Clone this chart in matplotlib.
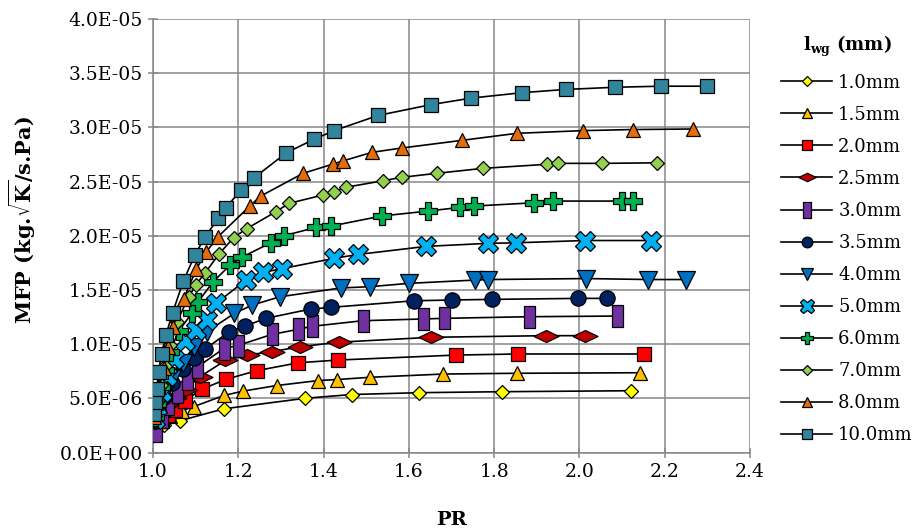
import matplotlib
matplotlib.use("Agg")
import matplotlib.pyplot as plt
from matplotlib.ticker import FixedLocator, FuncFormatter

plt.rcParams['font.family'] = ['DejaVu Serif']
plt.rcParams['mathtext.fontset'] = 'dejavuserif'

SCALE = 1e-5

labels = ["1.0mm", "1.5mm", "2.0mm", "2.5mm", "3.0mm", "3.5mm",
          "4.0mm", "5.0mm", "6.0mm", "7.0mm", "8.0mm", "10.0mm"]

# Pressure ratio (PR) and mass flow parameter (x1e-5) for each waveguide length
pr_10 = [1.005, 1.025, 1.063, 1.166, 1.356, 1.466, 1.624, 1.818, 2.122]
mfp_10 = [0.23, 0.25, 0.293, 0.403, 0.500, 0.535, 0.552, 0.561, 0.570]

pr_15 = [1.005, 1.020, 1.040, 1.068, 1.096, 1.166, 1.212, 1.290, 1.388, 1.431,
         1.509, 1.681, 1.853, 2.142]
mfp_15 = [0.25, 0.29, 0.34, 0.386, 0.424, 0.526, 0.567, 0.618, 0.664, 0.673,
          0.694, 0.724, 0.731, 0.736]

pr_20 = [1.005, 1.020, 1.035, 1.052, 1.075, 1.114, 1.171, 1.243, 1.341, 1.433,
         1.710, 1.856, 2.151]
mfp_20 = [0.26, 0.30, 0.35, 0.392, 0.478, 0.583, 0.675, 0.755, 0.828, 0.853,
          0.899, 0.909, 0.909]

pr_25 = [1.005, 1.015, 1.030, 1.050, 1.075, 1.110, 1.170, 1.220, 1.278, 1.345,
         1.436, 1.653, 1.921, 2.013]
mfp_25 = [0.27, 0.35, 0.44, 0.50, 0.577, 0.699, 0.850, 0.899, 0.930, 0.976,
          1.018, 1.063, 1.078, 1.078]

pr_30 = [1.007, 1.020, 1.035, 1.057, 1.080, 1.104, 1.166, 1.199, 1.278, 1.339,
         1.372, 1.492, 1.632, 1.683, 1.882, 2.087]
mfp_30 = [0.201, 0.33, 0.45, 0.558, 0.68, 0.789, 0.959, 0.987, 1.089, 1.135,
          1.164, 1.216, 1.232, 1.238, 1.253, 1.259]

pr_35 = [1.004, 1.012, 1.025, 1.045, 1.070, 1.095, 1.122, 1.179, 1.216, 1.265,
         1.370, 1.417, 1.612, 1.700, 1.796, 1.997, 2.065]
mfp_35 = [0.29, 0.39, 0.51, 0.64, 0.77, 0.87, 0.955, 1.114, 1.167, 1.238,
          1.324, 1.339, 1.400, 1.407, 1.413, 1.422, 1.422]

pr_40 = [1.004, 1.012, 1.025, 1.045, 1.070, 1.095, 1.126, 1.191, 1.233, 1.298,
         1.440, 1.509, 1.601, 1.755, 1.786, 2.016, 2.161, 2.251]
mfp_40 = [0.30, 0.41, 0.54, 0.68, 0.83, 0.97, 1.114, 1.284, 1.361, 1.437,
          1.518, 1.530, 1.561, 1.591, 1.596, 1.605, 1.596, 1.596]

pr_50 = [1.004, 1.010, 1.020, 1.033, 1.050, 1.075, 1.100, 1.127, 1.148, 1.218,
         1.257, 1.302, 1.424, 1.480, 1.641, 1.786, 1.852, 2.012, 2.169]
mfp_50 = [0.31, 0.42, 0.56, 0.71, 0.86, 1.03, 1.13, 1.222, 1.376, 1.591,
          1.661, 1.696, 1.791, 1.827, 1.902, 1.930, 1.935, 1.956, 1.956]

pr_60 = [1.004, 1.010, 1.018, 1.028, 1.040, 1.060, 1.091, 1.106, 1.141, 1.181,
         1.208, 1.276, 1.307, 1.382, 1.417, 1.536, 1.645, 1.721, 1.753, 1.893,
         1.939, 2.099, 2.126]
mfp_60 = [0.33, 0.45, 0.60, 0.76, 0.93, 1.12, 1.284, 1.391, 1.576, 1.730,
          1.801, 1.935, 2.000, 2.077, 2.089, 2.182, 2.228, 2.262, 2.274, 2.304,
          2.320, 2.320, 2.320]

pr_70 = [1.004, 1.010, 1.018, 1.028, 1.040, 1.056, 1.084, 1.101, 1.122, 1.154,
         1.189, 1.220, 1.288, 1.319, 1.398, 1.424, 1.452, 1.540, 1.583, 1.665,
         1.774, 1.923, 1.950, 2.054, 2.183]
mfp_70 = [0.34, 0.47, 0.62, 0.80, 0.99, 1.207, 1.437, 1.550, 1.656, 1.827,
          1.983, 2.066, 2.221, 2.299, 2.375, 2.406, 2.447, 2.508, 2.539, 2.576,
          2.622, 2.659, 2.668, 2.668, 2.673]

pr_80 = [1.003, 1.008, 1.015, 1.025, 1.035, 1.046, 1.072, 1.102, 1.125, 1.153,
         1.227, 1.2525, 1.352, 1.421, 1.445, 1.514, 1.584, 1.724, 1.853, 2.008,
         2.125, 2.266]
mfp_80 = [0.33, 0.46, 0.60, 0.78, 0.97, 1.158, 1.42, 1.695, 1.852, 1.993,
          2.274, 2.366, 2.576, 2.66, 2.69, 2.77, 2.81, 2.88, 2.945, 2.97,
          2.98, 2.985]

pr_100 = [1.002, 1.005, 1.009, 1.013, 1.020, 1.030, 1.046, 1.071, 1.098, 1.122,
          1.153, 1.171, 1.206, 1.237, 1.313, 1.377, 1.424, 1.528, 1.652, 1.746,
          1.865, 1.968, 2.083, 2.191, 2.299]
mfp_100 = [0.355, 0.468, 0.583, 0.745, 0.908, 1.08, 1.29, 1.58, 1.82, 1.99,
           2.16, 2.26, 2.42, 2.535, 2.766, 2.889, 2.969, 3.11, 3.21, 3.27,
           3.32, 3.35, 3.37, 3.38, 3.38]

x_ticks = [1.0, 1.2, 1.4, 1.6, 1.8, 2.0, 2.2, 2.4]
y_ticks = [0.0, 0.5, 1.0, 1.5, 2.0, 2.5, 3.0, 3.5, 4.0]

series_pr = [pr_10, pr_15, pr_20, pr_25, pr_30, pr_35,
             pr_40, pr_50, pr_60, pr_70, pr_80, pr_100]
series_mfp = [mfp_10, mfp_15, mfp_20, mfp_25, mfp_30, mfp_35,
              mfp_40, mfp_50, mfp_60, mfp_70, mfp_80, mfp_100]

colors = ["#FFFF00", "#FFC000", "#FF0000", "#C00000", "#7030A0", "#002060",
          "#0070C0", "#00B0F0", "#00B050", "#92D050", "#E46C0A", "#31849B"]

tall_bar = [(-0.24, -0.5), (0.24, -0.5), (0.24, 0.5), (-0.24, 0.5), (-0.24, -0.5)]
wide_diamond = [(-1.0, 0.0), (0.0, 0.48), (1.0, 0.0), (0.0, -0.48), (-1.0, 0.0)]

markers = ["D", "^", "s", wide_diamond, tall_bar, "o",
           "v", "X", "P", "D", "^", "s"]
sizes = [6.7, 9.5, 9.5, 18, 16.5, 11, 13, 15, 13, 6.7, 10, 10]

fig = plt.figure(figsize=(9.17, 5.32), dpi=100)
ax = fig.add_axes([153 / 917, 1 - 452.5 / 532, (750 - 153) / 917, (452.5 - 19) / 532])

for i, (xs, ys) in enumerate(zip(series_pr, series_mfp)):
    ax.plot(xs, [v * SCALE for v in ys], color="black", lw=1.2,
            marker=markers[i], markersize=sizes[i], markerfacecolor=colors[i],
            markeredgecolor="black", markeredgewidth=0.9,
            label=labels[i], zorder=3 + i)

ax.set_xlim(1.0, 2.4)
ax.set_ylim(0, 4.0e-5)
ax.xaxis.set_major_locator(FixedLocator(x_ticks))
ax.yaxis.set_major_locator(FixedLocator([v * SCALE for v in y_ticks]))
ax.xaxis.set_major_formatter(FuncFormatter(lambda v, p: f"{v:.1f}"))
ax.yaxis.set_major_formatter(FuncFormatter(lambda v, p: f"{v:.1E}"))

grid_c = "#878787"
ax.grid(True, color=grid_c, lw=1.1, zorder=0)
ax.set_axisbelow(True)
for s in ["top", "right"]:
    ax.spines[s].set_visible(False)
for s in ["left", "bottom"]:
    ax.spines[s].set_color(grid_c)
    ax.spines[s].set_linewidth(1.1)
ax.tick_params(direction="inout", length=7, width=1.1, color=grid_c,
               labelsize=13.5, pad=4)

ax.set_xlabel("PR", fontsize=14, fontweight="bold", labelpad=22)
ax.set_ylabel(r"MFP (kg.$\mathbf{\sqrt{K}}$/s.Pa)", fontsize=15,
              fontweight="bold")
ax.yaxis.set_label_coords(-0.192, 0.536)

leg = ax.legend(loc="upper left", bbox_to_anchor=(765 / 917, 1 - 18 / 532),
                bbox_transform=fig.transFigure, frameon=False, fontsize=13,
                title=r"$\mathbf{l_{wg}}$ (mm)", markerscale=0.7,
                handlelength=2.8, labelspacing=0.78, handletextpad=0.35)
leg.get_title().set_fontsize(13)
leg.get_title().set_fontweight("bold")

fig.savefig("out.png", dpi=100)
